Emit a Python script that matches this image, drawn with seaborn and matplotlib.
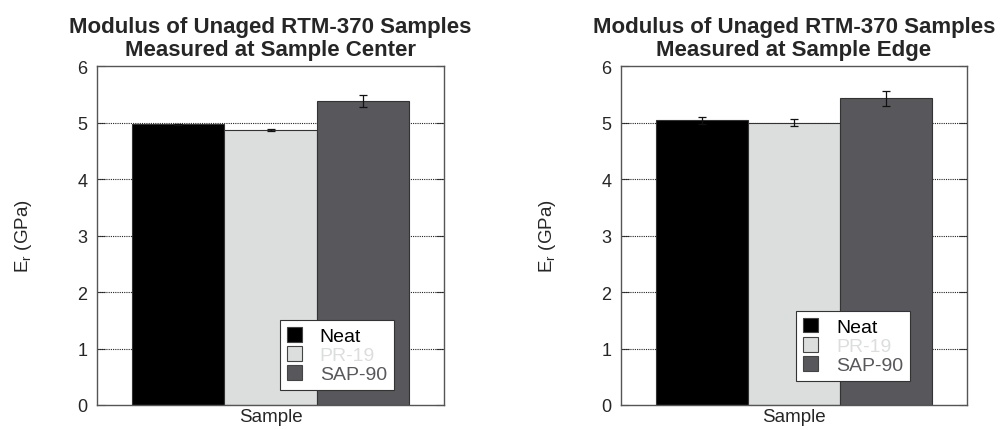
import matplotlib
matplotlib.use("Agg")
import matplotlib.pyplot as plt
import seaborn as sns
import pandas as pd
import numpy as np

groups = ["Neat", "PR-19", "SAP-90"]
center_vals = [4.97, 4.87, 5.38]
center_err = [0.01, 0.02, 0.11]
edge_vals = [5.04, 5.00, 5.43]
edge_err = [0.06, 0.06, 0.13]
titles = ["Modulus of Unaged RTM-370 Samples\nMeasured at Sample Center",
          "Modulus of Unaged RTM-370 Samples\nMeasured at Sample Edge"]
colors = ["#000000", "#dcdedd", "#58575c"]
legend_text_colors = ["#000000", "#dcdedd", "#58575c"]
yticks = [0, 1, 2, 3, 4, 5, 6]

sns.set_theme(style="white")
plt.rcParams["font.family"] = ["Liberation Sans", "DejaVu Sans"]
plt.rcParams["mathtext.default"] = "regular"

fig = plt.figure(figsize=(10.07, 4.31), dpi=100)
positions = [[97/1007, 1-406/431, 347/1007, 339/431],
             [621/1007, 1-406/431, 346/1007, 339/431]]
legend_anchor = [(0.527, 0.044), (0.506, 0.071)]

for i, (vals, errs) in enumerate([(center_vals, center_err), (edge_vals, edge_err)]):
    ax = fig.add_axes(positions[i])
    df = pd.DataFrame({"x": ["Sample"]*3, "group": groups, "val": vals})
    sns.barplot(data=df, x="x", y="val", hue="group", hue_order=groups,
                palette=colors, width=0.9, errorbar=None, ax=ax,
                edgecolor="#333333", linewidth=0.8, saturation=1, zorder=2)
    bars = [p for p in ax.patches if p.get_height() > 0][:3]
    xs = [b.get_x() + b.get_width()/2 for b in bars]
    hs = [b.get_height() for b in bars]
    ax.errorbar(xs, hs, yerr=errs, fmt="none", ecolor="#111111",
                elinewidth=0.9, capsize=3, capthick=0.9, zorder=3)
    ax.set_xlim(-0.5637, 0.5637)
    ax.set_ylim(0, 6)
    ax.set_yticks(yticks)
    ax.set_xticks([])
    ax.set_xlabel("Sample", fontsize=13.5, labelpad=2)
    ax.set_ylabel("$E_r$ (GPa)", fontsize=13.5, labelpad=31)
    ax.set_title(titles[i], fontsize=16, fontweight="bold", pad=8, linespacing=1.12)
    ax.tick_params(axis="y", direction="in", length=6, width=0.8, color="#444444",
                   labelsize=13, right=True, left=True, pad=7)
    for g in [1, 2, 3, 4, 5]:
        ax.axhline(g, color="#222222", linestyle=(0, (1, 1)), linewidth=0.8, zorder=1)
    for s in ax.spines.values():
        s.set_color("#555555")
        s.set_linewidth(1.0)
    leg = ax.legend(loc="lower left", bbox_to_anchor=legend_anchor[i], fontsize=14,
                    frameon=True, fancybox=False, framealpha=1, edgecolor="#333333",
                    handlelength=0.8, handleheight=0.8, handletextpad=0.9,
                    borderpad=0.35, labelspacing=0.05, borderaxespad=0)
    leg.get_frame().set_linewidth(0.8)
    for t, c in zip(leg.get_texts(), legend_text_colors):
        t.set_color(c)
    for h in leg.legend_handles:
        h.set_edgecolor("#444444")

fig.savefig("out.png", dpi=100)
